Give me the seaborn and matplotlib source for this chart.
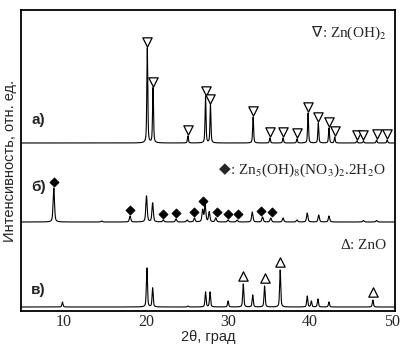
import numpy as np
import pandas as pd
import seaborn as sns
import matplotlib.pyplot as plt

# peak positions (2theta, deg) and heights (arb. units)
pos_a = [20.15, 20.85, 25.1, 27.25, 27.85, 33.05, 35.1, 36.7, 38.4, 39.75, 41.0, 42.3, 43.0, 45.7, 46.5, 48.1, 49.4]
hgt_a = [95, 55, 7, 46, 38, 26, 5, 5, 4, 30, 20, 15, 6, 2, 2, 3, 3]

pos_b = [8.75, 14.6, 18.05, 20.05, 20.8, 22.1, 23.65, 25.0, 25.9, 26.9, 27.2, 27.7, 28.5, 30.0, 31.1,
         32.95, 34.2, 35.2, 36.7, 38.4, 39.65, 41.05, 42.3, 46.5, 48.1]
hgt_b = [34, 1, 6, 26, 19, 2, 3, 2, 4, 12, 17, 10, 4, 2, 2, 10, 5, 4, 4, 2, 9, 7, 6, 1.5, 1.5]

pos_c = [9.8, 20.1, 20.8, 25.1, 27.25, 27.8, 30.0, 31.85, 33.0, 34.45, 36.35, 39.65, 40.15, 40.95, 42.3, 47.65]
hgt_c = [5, 39, 19, 1, 15, 15, 6, 23, 12, 21, 37, 11, 6, 8, 5, 7]

# phase markers
zn_oh2 = pos_a
zn5_nitrate = [8.75, 18.05, 22.1, 23.65, 25.9, 26.9, 28.6, 30.0, 31.2, 34.0, 35.3]
zno = [31.85, 34.45, 36.35, 47.65]

offsets = {'а)': 168, 'б)': 89, 'в)': 4}
widths = {'а)': 0.14, 'б)': 0.2, 'в)': 0.16}

tth = np.arange(4.5, 50.5, 0.01)


def pattern(pos, hgt, fwhm):
    y = np.zeros_like(tth)
    for p, h in zip(pos, hgt):
        d = (tth - p) / fwhm
        y += h * (0.5 * np.exp(-4 * np.log(2) * d ** 2) + 0.5 / (1 + 4 * d ** 2))
    return y


curves = {}
frames = []
for name, (pos, hgt) in zip(offsets, [(pos_a, hgt_a), (pos_b, hgt_b), (pos_c, hgt_c)]):
    y = pattern(pos, hgt, widths[name]) + offsets[name]
    curves[name] = y
    frames.append(pd.DataFrame({'tth': tth, 'I': y, 'sample': name}))
df = pd.concat(frames)


def marker_y(name, xs, gap):
    y = curves[name]
    return [y[(tth > x - 0.25) & (tth < x + 0.25)].max() + gap for x in xs]


sns.set_style("white")
plt.rcParams['font.family'] = ['Liberation Serif', 'DejaVu Sans']
plt.rcParams['mathtext.fontset'] = 'stix'

fig = plt.figure(figsize=(4.07, 3.49), dpi=100)
ax = fig.add_axes([21 / 407, 38 / 349, 374 / 407, 301 / 349])

sns.lineplot(data=df, x='tth', y='I', hue='sample', palette=['black'] * 3,
             estimator=None, sort=False, lw=0.8, legend=False, ax=ax)

sns.scatterplot(x=zn_oh2, y=marker_y('а)', zn_oh2, 6), marker='v', s=45,
                color='white', edgecolor='black', linewidth=0.9, zorder=3, ax=ax)
sns.scatterplot(x=zn5_nitrate, y=marker_y('б)', zn5_nitrate, 6), marker='D', s=22,
                color='black', edgecolor='black', linewidth=0.5, zorder=3, ax=ax)
sns.scatterplot(x=zno, y=marker_y('в)', zno, 8), marker='^', s=45,
                color='white', edgecolor='black', linewidth=0.9, zorder=3, ax=ax)

ax.set_xlim(4.75, 50.35)
ax.set_ylim(0, 301)
ax.set_yticks([])
ax.set_xticks([10, 20, 30, 40, 50])
ax.tick_params(axis='x', direction='in', length=3, labelsize=11.5, pad=2)
for s in ax.spines.values():
    s.set_linewidth(1.3)
    s.set_color('black')

sans = ['Liberation Sans', 'DejaVu Sans']
ax.set_xlabel('2θ, град', family=sans, fontsize=10.5)
ax.xaxis.set_label_coords(0.5, -0.063)
ax.set_ylabel('Интенсивность, отн. ед.', family=sans, fontsize=10.5)
ax.yaxis.set_label_coords(-0.012, 0.5)

for name, yf in zip(offsets, [0.635, 0.412, 0.07]):
    ax.text(0.027, yf, name, transform=ax.transAxes, family=sans, fontweight='bold',
            fontsize=11, va='center', ha='left')

# phase legends: formula right-aligned, symbol glued on its left
legends = [('∇', ': Zn(OH)$_2$', 0.924),
           ('◆', ': Zn$_5$(OH)$_8$(NO$_3$)$_2$.2H$_2$O', 0.468),
           ('Δ', ': ZnO', 0.219)]
for sym, formula, yf in legends:
    t = ax.text(0.976, yf, formula, transform=ax.transAxes, fontsize=11, ha='right', va='center')
    ax.annotate(sym, xy=(0, 0.5), xycoords=t, ha='right', va='center', fontsize=11,
                family=['Liberation Serif', 'DejaVu Sans'])

fig.savefig('out.png', dpi=100)
